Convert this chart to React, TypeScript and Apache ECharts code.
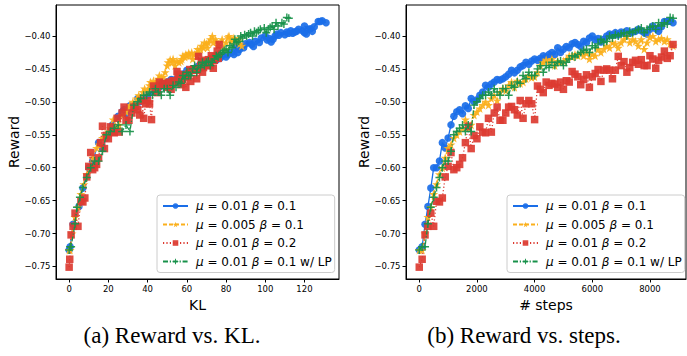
import React, { useEffect, useRef } from "react";
import * as echarts from "echarts";

const steps = [
  0, 100, 200, 300, 400, 500, 600, 700, 800, 900,
  1000, 1100, 1200, 1300, 1400, 1500, 1600, 1700, 1800, 1900,
  2000, 2100, 2200, 2300, 2400, 2500, 2600, 2700, 2800, 2900,
  3000, 3100, 3200, 3300, 3400, 3500, 3600, 3700, 3800, 3900,
  4000, 4100, 4200, 4300, 4400, 4500, 4600, 4700, 4800, 4900,
  5000, 5100, 5200, 5300, 5400, 5500, 5600, 5700, 5800, 5900,
  6000, 6100, 6200, 6300, 6400, 6500, 6600, 6700, 6800, 6900,
  7000, 7100, 7200, 7300, 7400, 7500, 7600, 7700, 7800, 7900,
  8000, 8100, 8200, 8300, 8400, 8500, 8600, 8700, 8800,
];

const blueReward = [
  -0.725, -0.72, -0.686, -0.659, -0.631, -0.6, -0.6, -0.59, -0.562, -0.57,
  -0.555, -0.535, -0.522, -0.515, -0.512, -0.518, -0.506, -0.51, -0.495, -0.5,
  -0.497, -0.49, -0.485, -0.475, -0.478, -0.473, -0.47, -0.466, -0.467, -0.465,
  -0.462, -0.458, -0.452, -0.456, -0.452, -0.447, -0.445, -0.44, -0.443, -0.438,
  -0.435, -0.437, -0.434, -0.43, -0.432, -0.428, -0.425, -0.428, -0.418, -0.425,
  -0.42, -0.416, -0.418, -0.412, -0.41, -0.413, -0.416, -0.408, -0.41, -0.403,
  -0.4, -0.406, -0.404, -0.409, -0.405, -0.4, -0.397, -0.399, -0.395, -0.398,
  -0.394, -0.396, -0.392, -0.396, -0.394, -0.393, -0.39, -0.392, -0.395, -0.397,
  -0.39, -0.385, -0.389, -0.393, -0.386, -0.378, -0.378, -0.377, -0.38,
];
const blueKL = [
  0, 0.5, 2, 5, 7, 10, 10.5, 12, 15, 17,
  19, 22, 25, 27, 28, 29, 31, 32, 35, 36,
  38, 40, 42, 44, 46, 48, 50, 52, 53, 55,
  57, 58, 60, 61, 63, 65, 67, 68, 70, 72,
  74, 75, 77, 78, 80, 81, 83, 84, 85, 86,
  87, 88, 89, 90, 92, 93, 94, 95, 97, 98,
  100, 101, 102, 103, 104, 105, 106, 107, 108, 110,
  111, 112, 113, 114, 115, 116, 117, 119, 120, 121,
  122, 120, 123, 124, 125, 127, 128, 129, 131,
];

const orangeReward = [
  -0.725, -0.725, -0.7, -0.675, -0.66, -0.64, -0.625, -0.61, -0.6, -0.585,
  -0.57, -0.565, -0.555, -0.55, -0.545, -0.54, -0.527, -0.54, -0.535, -0.52,
  -0.515, -0.51, -0.505, -0.5, -0.505, -0.495, -0.49, -0.498, -0.485, -0.48,
  -0.483, -0.475, -0.47, -0.478, -0.468, -0.472, -0.47, -0.465, -0.46, -0.463,
  -0.462, -0.455, -0.445, -0.44, -0.436, -0.44, -0.435, -0.445, -0.438, -0.44,
  -0.438, -0.435, -0.43, -0.432, -0.428, -0.43, -0.426, -0.43, -0.425, -0.435,
  -0.428, -0.43, -0.42, -0.425, -0.42, -0.415, -0.418, -0.41, -0.412, -0.418,
  -0.41, -0.405, -0.4, -0.41, -0.405, -0.408, -0.415, -0.405, -0.42, -0.41,
  -0.402, -0.4, -0.408, -0.405, -0.403, -0.408, -0.405, -0.412, -0.415,
];
const orangeKL = [
  0, 0.5, 1.5, 3, 4.5, 6, 7.5, 9, 10.5, 12,
  14, 15.5, 17, 18.5, 20, 21, 22.5, 24, 25.5, 27,
  29, 30, 31, 32.5, 33.5, 34.5, 35.5, 36.5, 37.5, 38.5,
  40, 41, 41.5, 42.5, 43, 44, 44.5, 45.5, 46, 47,
  48, 49, 50, 50.5, 51.5, 52.5, 53, 54, 55, 56,
  57, 57.5, 58, 59, 59.5, 60, 61, 61.5, 62.5, 63,
  64, 65, 65.5, 66, 67, 67.5, 68.5, 69, 70, 70.5,
  71, 72, 73, 73.5, 74.5, 75, 76, 78, 79, 80,
  81, 81.5, 82.5, 83.5, 84, 86, 86.5, 87, 88,
];

const redReward = [
  -0.751, -0.739, -0.702, -0.689, -0.669, -0.689, -0.651, -0.652, -0.646, -0.614,
  -0.598, -0.577, -0.603, -0.6, -0.595, -0.585, -0.562, -0.537, -0.571, -0.551,
  -0.556, -0.538, -0.546, -0.547, -0.525, -0.546, -0.517, -0.508, -0.528, -0.528,
  -0.517, -0.508, -0.507, -0.512, -0.52, -0.498, -0.525, -0.503, -0.498, -0.503,
  -0.527, -0.476, -0.481, -0.486, -0.47, -0.475, -0.472, -0.473, -0.478, -0.47,
  -0.481, -0.468, -0.47, -0.454, -0.458, -0.462, -0.474, -0.466, -0.459, -0.478,
  -0.462, -0.457, -0.451, -0.469, -0.452, -0.45, -0.452, -0.465, -0.452, -0.431,
  -0.445, -0.439, -0.455, -0.448, -0.44, -0.437, -0.443, -0.436, -0.445, -0.445,
  -0.43, -0.435, -0.449, -0.437, -0.432, -0.423, -0.434, -0.43, -0.413,
];
const redKL = [
  0, 0.3, 1, 2, 3, 4.5, 6, 7, 8, 9,
  10, 11, 12, 13, 14, 15, 16, 17, 18, 19,
  20, 21, 22, 23, 24.5, 25.5, 27, 28, 29, 30.5,
  32, 33, 34, 35, 36, 37, 38, 39, 40, 41,
  42, 43, 44, 45, 46, 47, 48, 49, 50, 51,
  52, 53, 54, 55, 55.5, 56.5, 57, 58, 59, 59.5,
  60, 61, 61.5, 62, 63, 63.5, 64.5, 65, 65.5, 66,
  67, 67.5, 68, 68.5, 69, 69.5, 70, 71, 71.5, 72,
  72.5, 73, 73.5, 74, 74.5, 75.5, 76, 76, 76.5,
];

const greenReward = [
  -0.725, -0.72, -0.72, -0.685, -0.66, -0.645, -0.63, -0.615, -0.6, -0.59,
  -0.59, -0.575, -0.55, -0.545, -0.54, -0.535, -0.545, -0.535, -0.545, -0.505,
  -0.5, -0.495, -0.49, -0.49, -0.485, -0.49, -0.48, -0.485, -0.49, -0.48,
  -0.48, -0.49, -0.475, -0.478, -0.47, -0.472, -0.46, -0.465, -0.455, -0.46,
  -0.46, -0.45, -0.445, -0.455, -0.445, -0.448, -0.44, -0.445, -0.44, -0.438,
  -0.445, -0.44, -0.435, -0.43, -0.432, -0.428, -0.425, -0.422, -0.42, -0.425,
  -0.415, -0.418, -0.412, -0.405, -0.41, -0.408, -0.4, -0.403, -0.398, -0.4,
  -0.397, -0.395, -0.4, -0.393, -0.395, -0.392, -0.39, -0.388, -0.395, -0.39,
  -0.387, -0.385, -0.39, -0.38, -0.385, -0.38, -0.382, -0.372, -0.373,
];
const greenKL = [
  0, 0.5, 1, 3, 4, 5.5, 7, 9, 11, 13,
  15, 17, 19, 21, 23, 25, 27, 29, 31, 33,
  35, 36.5, 38, 39.5, 41, 42.5, 44, 45.5, 47, 48.5,
  50, 51.5, 53, 54.5, 56, 57, 58, 59, 60, 61,
  62, 63, 64, 65, 66, 67, 68, 69, 70, 71,
  72, 73, 74, 75, 76, 77, 78, 79, 80, 81,
  82, 83, 84, 84.5, 85.5, 86.5, 87.5, 88.5, 89.5, 90.5,
  91.5, 92.5, 93.5, 94.5, 95.5, 96.5, 97.5, 99.5, 100.5, 101.5,
  102.5, 103.5, 104.5, 105.5, 106.5, 108.5, 109.5, 111, 112,
];

const seriesNames = [
  "μ = 0.01 β = 0.1",
  "μ = 0.005 β = 0.1",
  "μ = 0.01 β = 0.2",
  "μ = 0.01 β = 0.1 w/ LP",
];
const rewardTicks = [-0.75, -0.7, -0.65, -0.6, -0.55, -0.5, -0.45, -0.4];
const klTicks = [0, 20, 40, 60, 80, 100, 120];
const stepTicks = [0, 2000, 4000, 6000, 8000];
const captions = ["(a) Reward vs. KL.", "(b) Reward vs. steps."];

const COLORS = ["#1a6ee8", "#fbb01c", "#dc3b31", "#18914a"];
const STAR =
  "path://M50,0 L61.8,35.1 L98.1,35.1 L68.8,56.8 L79.4,91 L50,70 L20.6,91 L31.2,56.8 L1.9,35.1 L38.2,35.1 Z";
const PLUS =
  "path://M41,0 H59 V41 H100 V59 H59 V100 H41 V59 H0 V41 H41 Z";

const FONT = "DejaVu Sans";

export default function App() {
  const ref = useRef<HTMLDivElement>(null);
  useEffect(() => {
    if (!ref.current) return;
    const chart = echarts.init(ref.current, null, { renderer: "svg" });

    const styles = [
      { symbol: "circle", size: 7.5, type: "solid" as any },
      { symbol: STAR, size: 9, type: [4, 2] as any },
      { symbol: "rect", size: 7.5, type: [1.2, 2.2] as any },
      { symbol: PLUS, size: 8, type: [5, 1.8, 1.2, 1.8] as any },
    ];
    const rewards = [blueReward, orangeReward, redReward, greenReward];
    const kls = [blueKL, orangeKL, redKL, greenKL];

    const mk = (i: number, grid: number) => ({
      type: "line",
      name: seriesNames[i],
      xAxisIndex: grid,
      yAxisIndex: grid,
      data: (grid === 0 ? kls[i] : steps).map((x, j) => [x, rewards[i][j]]),
      symbol: styles[i].symbol,
      symbolSize: styles[i].size,
      showSymbol: true,
      showAllSymbol: true,
      color: COLORS[i],
      itemStyle: { color: COLORS[i], opacity: 0.92 },
      lineStyle: { color: COLORS[i], width: 1.3, type: styles[i].type },
      emphasis: { disabled: true },
      z: 2 + i,
    });

    const tickFmt = (v: number) => v.toFixed(2).replace("-", "\u2212");
    const axisCommon = {
      axisLine: { show: true, onZero: false, lineStyle: { color: "#000", width: 1 } },
      axisTick: { show: true, inside: false, length: 3.5, lineStyle: { color: "#000" } },
      splitLine: { show: false },
    };
    const yAxis = (grid: number) => ({
      type: "value",
      gridIndex: grid,
      min: -0.769,
      max: -0.353,
      name: "Reward",
      nameLocation: "middle",
      nameGap: 35,
      nameTextStyle: { fontFamily: FONT, fontSize: 14, color: "#000" },
      ...axisCommon,
      axisTick: { ...axisCommon.axisTick, customValues: rewardTicks },
      axisLabel: {
        customValues: rewardTicks,
        formatter: tickFmt,
        fontFamily: FONT,
        fontSize: 8.5,
        color: "#000",
        margin: 5.5,
      },
    });
    const xAxis = (grid: number) => ({
      type: "value",
      gridIndex: grid,
      min: grid === 0 ? -6.7 : -460,
      max: grid === 0 ? 137.6 : 9250,
      name: grid === 0 ? "KL" : "# steps",
      nameLocation: "middle",
      nameGap: 18,
      nameTextStyle: { fontFamily: FONT, fontSize: 14, color: "#000" },
      ...axisCommon,
      axisTick: { ...axisCommon.axisTick, customValues: grid === 0 ? klTicks : stepTicks },
      axisLabel: {
        customValues: grid === 0 ? klTicks : stepTicks,
        formatter: (v: number) => String(v),
        fontFamily: FONT,
        fontSize: 8.5,
        color: "#000",
        margin: 5,
      },
    });

    const legend = (left: number) => ({
      orient: "vertical",
      left,
      top: 195,
      data: seriesNames,
      itemWidth: 25,
      itemHeight: 7,
      itemGap: 4.5,
      padding: [4, 3, 4, 5],
      backgroundColor: "rgba(255,255,255,0.85)",
      borderColor: "#cccccc",
      borderWidth: 1,
      borderRadius: 3,
      selectedMode: false,
      formatter: (name: string) =>
        name.replace(/μ/g, "{i|μ}").replace(/β/g, "{i|β}"),
      textStyle: {
        fontFamily: FONT,
        fontSize: 12,
        lineHeight: 14,
        color: "#000",
        padding: [0, 0, 0, 3],
        rich: {
          i: { fontFamily: FONT, fontSize: 12, fontStyle: "italic", lineHeight: 14, color: "#000" },
        },
      },
    });

    chart.setOption({
      animation: false,
      backgroundColor: "#fff",
      grid: [
        { left: 56, top: 5, width: 283, height: 274, show: true, borderColor: "#000", borderWidth: 1, containLabel: false },
        { left: 406, top: 5, width: 280, height: 274, show: true, borderColor: "#000", borderWidth: 1, containLabel: false },
      ],
      xAxis: [xAxis(0), xAxis(1)],
      yAxis: [yAxis(0), yAxis(1)],
      legend: [legend(157), legend(507)],
      series: [0, 1, 2, 3].map((i) => mk(i, 0)).concat([0, 1, 2, 3].map((i) => mk(i, 1))),
      graphic: [
        {
          type: "text",
          x: 172,
          y: 335,
          style: {
            text: captions[0],
            fontFamily: "Liberation Serif",
            fontSize: 23,
            fill: "#000",
            textAlign: "center",
            textVerticalAlign: "middle",
          },
        },
        {
          type: "text",
          x: 524,
          y: 335,
          style: {
            text: captions[1],
            fontFamily: "Liberation Serif",
            fontSize: 23,
            fill: "#000",
            textAlign: "center",
            textVerticalAlign: "middle",
          },
        },
      ],
    });
    return () => chart.dispose();
  }, []);
  return (
    <div
      ref={ref}
      style={{ position: "fixed", left: 0, top: 0, width: 687, height: 356 }}
    />
  );
}
